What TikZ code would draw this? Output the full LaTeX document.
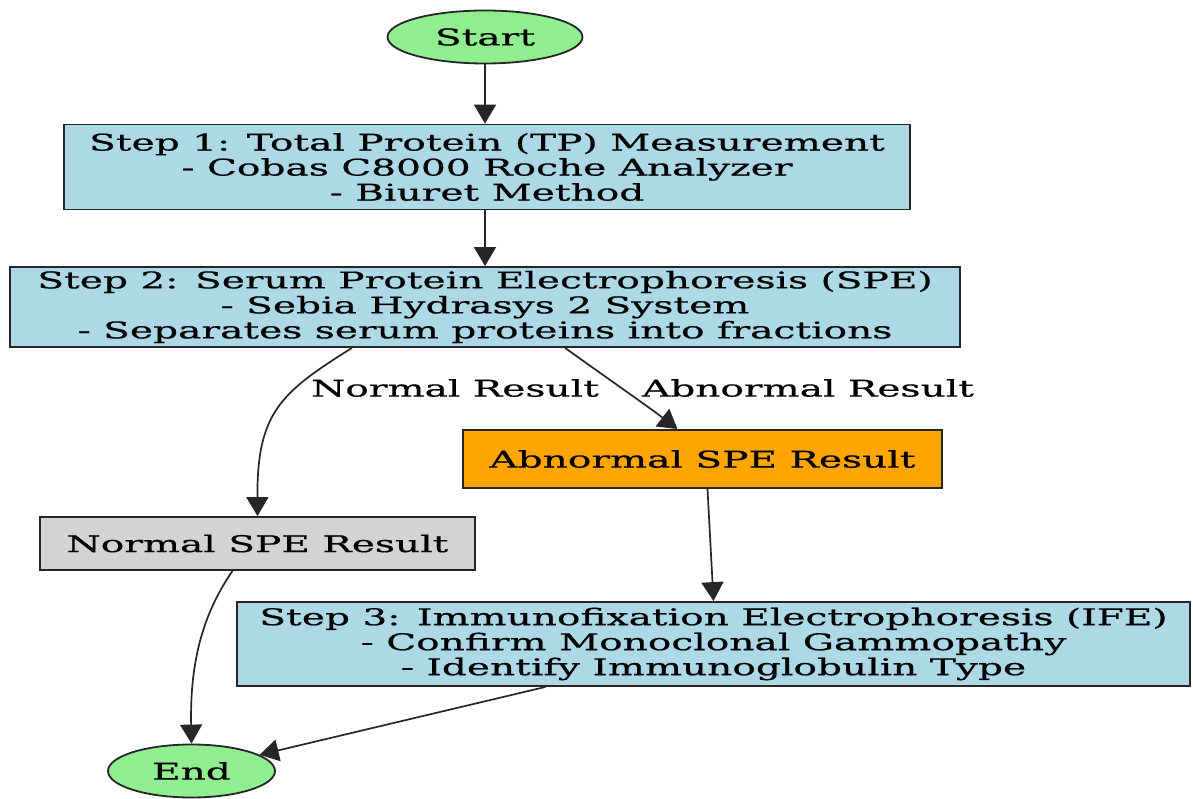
\documentclass[tikz,border=0pt]{standalone}
\usepackage{fontspec}
\setmainfont{DejaVu Serif}[FakeStretch=1.7, FakeBold=0.6]
\usepackage{tikz}
\definecolor{termcolor}{HTML}{90EE90}
\definecolor{stepcolor}{HTML}{ADD8E6}
\definecolor{abnormalcolor}{HTML}{FFA500}
\definecolor{normalcolor}{HTML}{D3D3D3}
\usetikzlibrary{arrows.meta, shapes}

\begin{document}
\begin{tikzpicture}[
            x=1pt, y=1pt,
            >={Triangle[width=22pt,length=19pt]},
                base/.style = {rectangle, draw=black!85, line width=1.8pt,
                            inner sep=0pt, text centered,
                            font={\fontsize{23}{25}\selectfont}},
                startstop/.style = {base, ellipse, fill=termcolor},
                process/.style = {base, fill=stepcolor, align=center},
                resultAbnormal/.style = {base, fill=abnormalcolor},
                resultNormal/.style = {base, fill=normalcolor},
                edgelabel/.style = {font={\fontsize{23}{25}\selectfont}, inner sep=0pt},
                flow/.style = {->, line width=1.7pt, draw=black!85}]
            \useasboundingbox (0,0) rectangle (1193,798);
            \node (Start) [startstop, minimum width=195, minimum height=53] at (485,761) {Start};
            \node (TotalProtein) [process, minimum width=846, minimum height=85] at (487,631) {
                Step 1: Total Protein (TP) Measurement\\
                - Cobas C8000 Roche Analyzer\\
                - Biuret Method
            };
            \node (SerumElectro) [process, minimum width=950, minimum height=80] at (485,491) {
                Step 2: Serum Protein Electrophoresis (SPE)\\
                - Sebia Hydrasys 2 System\\
                - Separates serum proteins into fractions
            };
            \node (AbnormalSPE) [resultAbnormal, minimum width=479, minimum height=58] at (702.5,339) {
                Abnormal SPE Result
            };
            \node (NormalSPE) [resultNormal, minimum width=435, minimum height=53] at (257.5,254.5) {
                Normal SPE Result
            };
            \node (Immunofix) [process, minimum width=953, minimum height=84] at (713.5,154) {
                Step 3: Immunofixation Electrophoresis (IFE)\\
                - Confirm Monoclonal Gammopathy\\
                - Identify Immunoglobulin Type
            };
            \node (End) [startstop, minimum width=167, minimum height=53] at (191.5,27) {End};
            \node (NormalLabel) [edgelabel] at (455,410) {Normal Result};
            \node (AbnormalLabel) [edgelabel] at (808,410) {Abnormal Result};
            \draw[flow] (Start.south) -- (Start.south |- TotalProtein.north);
            \draw[flow] (TotalProtein.south -| SerumElectro.north) -- (SerumElectro.north);
            \draw[flow] ([xshift=-133pt]SerumElectro.south) .. controls (280,405) and (257,385) .. (NormalSPE.north);
            \draw[flow] ([xshift=80pt]SerumElectro.south) .. controls (600,425) and (650,390) .. ([xshift=-25pt]AbnormalSPE.north);
            \draw[flow] ([xshift=5pt]AbnormalSPE.south) -- (Immunofix.north);
            \draw[flow] ([xshift=-25pt]NormalSPE.south) .. controls (200,180) and (190,130) .. (End.north);
            \draw[flow] ([xshift=-168pt]Immunofix.south) -- (End);
        \end{tikzpicture}
\end{document}
